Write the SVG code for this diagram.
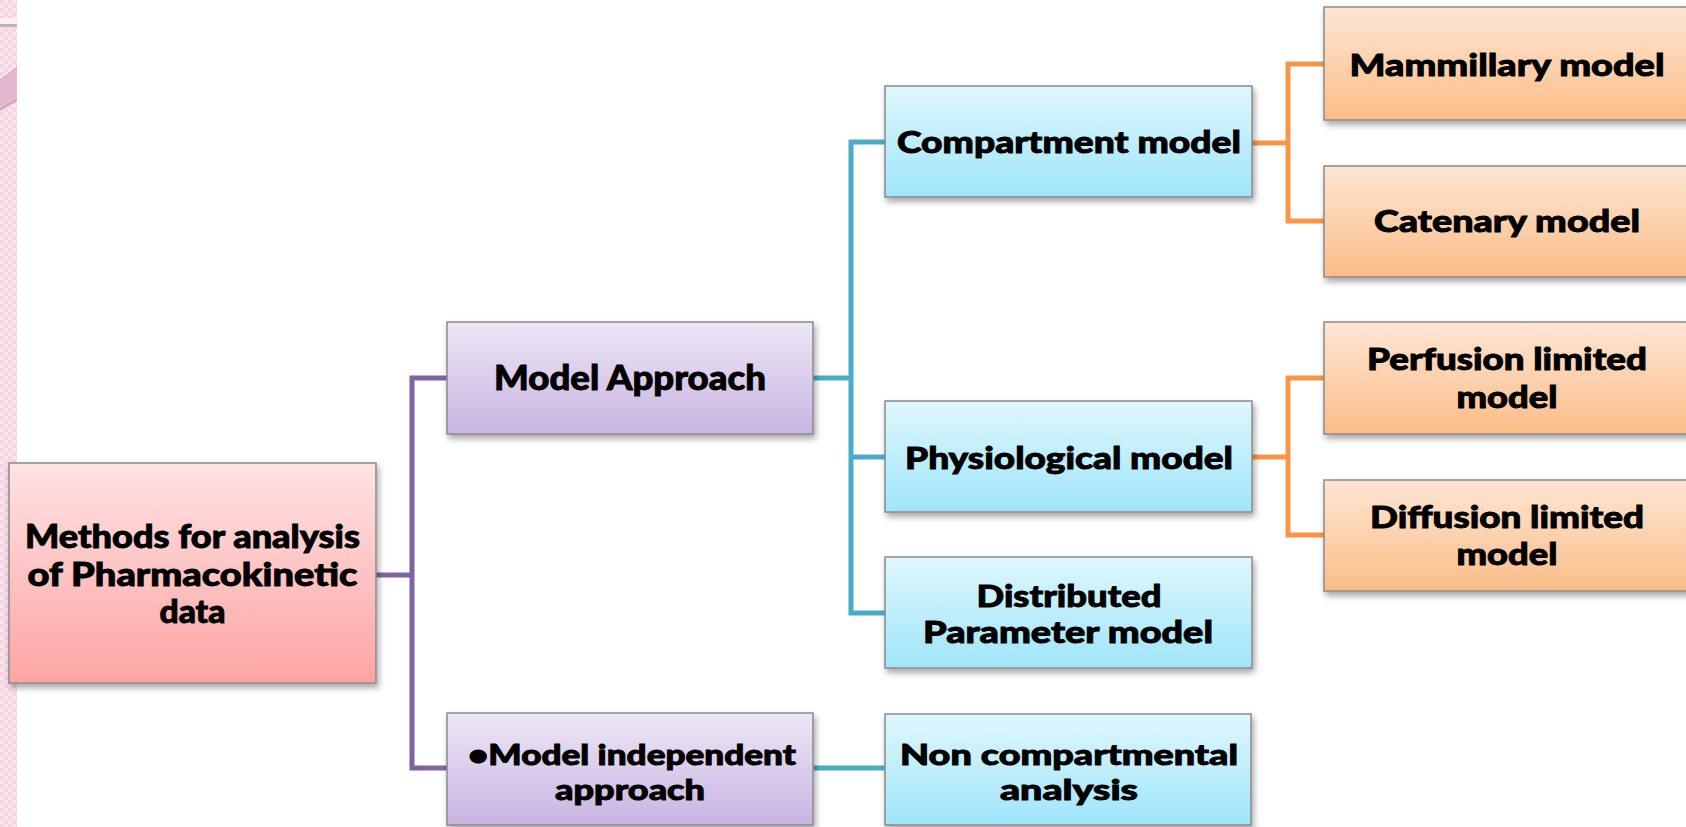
<svg xmlns="http://www.w3.org/2000/svg" width="1686" height="827" viewBox="0 0 1686 827">
<defs>
  <pattern id="chk" width="8" height="8" patternUnits="userSpaceOnUse">
    <rect width="8" height="8" fill="#fbe3ee"/>
    <rect width="4" height="4" fill="#f4d2e2"/>
    <rect x="4" y="4" width="4" height="4" fill="#f4d2e2"/>
    <rect x="1.5" y="1.5" width="1" height="1" fill="#fff3f8"/>
    <rect x="5.5" y="5.5" width="1" height="1" fill="#fff3f8"/>
  </pattern>
  <linearGradient id="gPink" x1="0" y1="0" x2="0" y2="1">
    <stop offset="0" stop-color="#ffe3e3"/>
    <stop offset="1" stop-color="#fda4a4"/>
  </linearGradient>
  <linearGradient id="gPurple" x1="0" y1="0" x2="0" y2="1">
    <stop offset="0" stop-color="#ede7f6"/>
    <stop offset="1" stop-color="#c8b4e1"/>
  </linearGradient>
  <linearGradient id="gBlue" x1="0" y1="0" x2="0" y2="1">
    <stop offset="0" stop-color="#dff7fd"/>
    <stop offset="1" stop-color="#9fe5fa"/>
  </linearGradient>
  <linearGradient id="gOrange" x1="0" y1="0" x2="0" y2="1">
    <stop offset="0" stop-color="#fde6d4"/>
    <stop offset="1" stop-color="#fbbd88"/>
  </linearGradient>
  <filter id="sh" x="-10%" y="-10%" width="130%" height="140%">
    <feDropShadow dx="2" dy="4" stdDeviation="3" flood-color="#000" flood-opacity="0.35"/>
  </filter>
</defs>
<style>
  .box { stroke: #8a8a8a; stroke-width: 1.5; filter: url(#sh); }
  .pink { fill: url(#gPink); }
  .purple { fill: url(#gPurple); }
  .blue { fill: url(#gBlue); }
  .orange { fill: url(#gOrange); }
  .ln { fill: none; stroke-width: 5; stroke-linejoin: miter; }
  .lp { stroke: #8064a2; }
  .lt { stroke: #4bacc6; }
  .lo { stroke: #f79646; }
  text { font-family: "Lato", "Liberation Sans", sans-serif; font-weight: 900; fill: #000; stroke: #000; stroke-width: 0.9; text-anchor: middle; }
  .f35 { font-size: 35px; }
  .f33 { font-size: 33px; }
  .f31 { font-size: 31px; }
  .f28 { font-size: 28px; }
</style>
<rect width="1686" height="827" fill="#ffffff"/>
<g id="side-strip">
  <rect x="0" y="0" width="17" height="827" fill="url(#chk)"/>
  <rect x="0" y="18" width="17" height="6" fill="#fdeef5"/>
  <rect x="0" y="24" width="17" height="3" fill="#bdb3b8"/>
  <path d="M0,80 Q9,74 17,67 L17,100 Q9,104 0,110 Z" fill="#e6b8cf"/>
  <path d="M0,80 Q9,74 17,67" fill="none" stroke="#c9a9b9" stroke-width="1"/>
  <path d="M0,110 Q9,104 17,100" fill="none" stroke="#b9a3ae" stroke-width="1.5"/>
</g>
<g id="connectors">
  <polyline class="ln lp" points="447,378 412,378 412,768 447,768"/>
  <polyline class="ln lp" points="376,575 412,575"/>
  <polyline class="ln lt" points="885,142 851,142 851,613 885,613"/>
  <polyline class="ln lt" points="813,378 851,378"/>
  <polyline class="ln lt" points="851,457 885,457"/>
  <polyline class="ln lt" points="813,768 885,768"/>
  <polyline class="ln lo" points="1324,64 1288,64 1288,221 1324,221"/>
  <polyline class="ln lo" points="1252,143 1288,143"/>
  <polyline class="ln lo" points="1324,378 1288,378 1288,535 1324,535"/>
  <polyline class="ln lo" points="1252,457 1288,457"/>
</g>
<g id="root">
  <rect class="box pink" x="9" y="463" width="367" height="220"/>
  <text class="f33" x="192.5" y="548" textLength="335" lengthAdjust="spacingAndGlyphs">Methods for analysis</text>
  <text class="f33" x="192.5" y="586" textLength="330" lengthAdjust="spacingAndGlyphs">of Pharmacokinetic</text>
  <text class="f33" x="192.5" y="623" textLength="66" lengthAdjust="spacingAndGlyphs">data</text>
</g>
<g id="model-approach">
  <rect class="box purple" x="447" y="322" width="366" height="112"/>
  <text class="f35" x="630" y="390" textLength="272" lengthAdjust="spacingAndGlyphs">Model Approach</text>
</g>
<g id="model-independent">
  <rect class="box purple" x="447" y="713" width="366" height="112"/>
  <text class="f28" x="632" y="765" textLength="328" lengthAdjust="spacingAndGlyphs">•Model independent</text>
  <text class="f28" x="630" y="800" textLength="150" lengthAdjust="spacingAndGlyphs">approach</text>
</g>
<g id="compartment">
  <rect class="box blue" x="885" y="86" width="367" height="111"/>
  <text class="f31" x="1069" y="153" textLength="344" lengthAdjust="spacingAndGlyphs">Compartment model</text>
</g>
<g id="physiological">
  <rect class="box blue" x="885" y="401" width="367" height="111"/>
  <text class="f31" x="1069" y="469" textLength="328" lengthAdjust="spacingAndGlyphs">Physiological model</text>
</g>
<g id="distributed">
  <rect class="box blue" x="885" y="557" width="367" height="111"/>
  <text class="f31" x="1069" y="607" textLength="185" lengthAdjust="spacingAndGlyphs">Distributed</text>
  <text class="f31" x="1068" y="643" textLength="290" lengthAdjust="spacingAndGlyphs">Parameter model</text>
</g>
<g id="non-compartmental">
  <rect class="box blue" x="885" y="714" width="366" height="111"/>
  <text class="f28" x="1069" y="765" textLength="338" lengthAdjust="spacingAndGlyphs">Non compartmental</text>
  <text class="f28" x="1069" y="800" textLength="138" lengthAdjust="spacingAndGlyphs">analysis</text>
</g>
<g id="mammillary">
  <rect class="box orange" x="1324" y="7" width="368" height="113"/>
  <text class="f31" x="1507" y="76" textLength="315" lengthAdjust="spacingAndGlyphs">Mammillary model</text>
</g>
<g id="catenary">
  <rect class="box orange" x="1324" y="166" width="368" height="111"/>
  <text class="f31" x="1507" y="232" textLength="266" lengthAdjust="spacingAndGlyphs">Catenary model</text>
</g>
<g id="perfusion">
  <rect class="box orange" x="1324" y="322" width="368" height="112"/>
  <text class="f31" x="1507" y="370" textLength="280" lengthAdjust="spacingAndGlyphs">Perfusion limited</text>
  <text class="f31" x="1507" y="408" textLength="101" lengthAdjust="spacingAndGlyphs">model</text>
</g>
<g id="diffusion">
  <rect class="box orange" x="1324" y="480" width="368" height="111"/>
  <text class="f31" x="1507" y="528" textLength="274" lengthAdjust="spacingAndGlyphs">Diffusion limited</text>
  <text class="f31" x="1507" y="565" textLength="101" lengthAdjust="spacingAndGlyphs">model</text>
</g>
</svg>
